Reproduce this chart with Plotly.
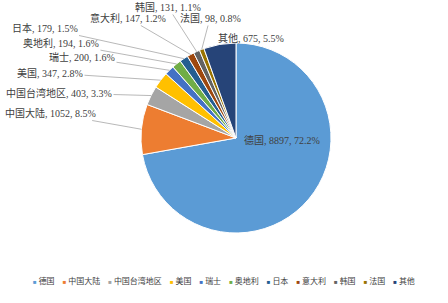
import math
import plotly.graph_objects as go

labels = ["德国", "中国大陆", "中国台湾地区", "美国", "瑞士", "奥地利", "日本", "意大利", "韩国", "法国", "其他"]
values = [8897, 1052, 403, 347, 200, 194, 179, 147, 131, 98, 675]
colors = ["#5B9BD5", "#ED7D31", "#A5A5A5", "#FFC000", "#4472C4", "#70AD47",
          "#255E91", "#9E480E", "#636363", "#997300", "#264478"]

W, H = 448, 303
CX, CY, R = 236, 138, 95  # pie centre / radius in pixels

# label text centres (pixels), one per slice; first one sits inside its slice
label_pos = [(282, 140), (50, 113), (59, 93), (50, 73), (82, 57), (61, 43),
             (45, 28), (128, 18), (168, 7), (210, 18), (251, 38)]
inside = [True] + [False] * 10

FONT = "Liberation Serif, Noto Sans CJK SC"
total = sum(values)

fig = go.Figure(go.Pie(
    labels=labels,
    values=values,
    sort=False,
    direction="clockwise",
    rotation=0,
    marker=dict(colors=colors, line=dict(color="white", width=1)),
    textinfo="none",
    domain=dict(x=[(CX - R) / W, (CX + R) / W], y=[1 - (CY + R) / H, 1 - (CY - R) / H]),
    showlegend=False,
    hoverinfo="label+value+percent",
))

annotations = []
cum = 0
for lab, val, pos, ins in zip(labels, values, label_pos, inside):
    mid = (cum + val / 2) / total * 2 * math.pi
    cum += val
    pct = val / total * 100
    text = f"{lab}, {val}, {pct:.1f}%"
    font = dict(family=FONT, size=10, color="#404040")
    if ins:
        annotations.append(dict(x=pos[0] / W, y=1 - pos[1] / H, xref="paper", yref="paper",
                                text=text, showarrow=False, font=font))
        continue
    tx = CX + R * math.sin(mid)
    ty = CY - R * math.cos(mid)
    annotations.append(dict(
        x=tx / W, y=1 - ty / H, xref="paper", yref="paper",
        text=text,
        showarrow=True, arrowhead=0, arrowwidth=0.8, arrowcolor="#A6A6A6",
        ax=pos[0] - tx, ay=pos[1] - ty,
        font=font,
    ))

legend_parts = []
for lab, col in zip(labels, colors):
    legend_parts.append(f"<span style='color:{col};font-size:6px'>■</span> {lab}")
legend_text = "&nbsp;&nbsp;&nbsp;&nbsp;".join(legend_parts)
annotations.append(dict(
    x=0.5, y=1 - 281 / H, xref="paper", yref="paper", showarrow=False,
    text=legend_text, xanchor="center", yanchor="middle",
    font=dict(family=FONT, size=8, color="#404040"),
))

fig.update_layout(
    width=W, height=H,
    margin=dict(l=0, r=0, t=0, b=0),
    paper_bgcolor="white",
    annotations=annotations,
)

fig.write_html("out.html")
